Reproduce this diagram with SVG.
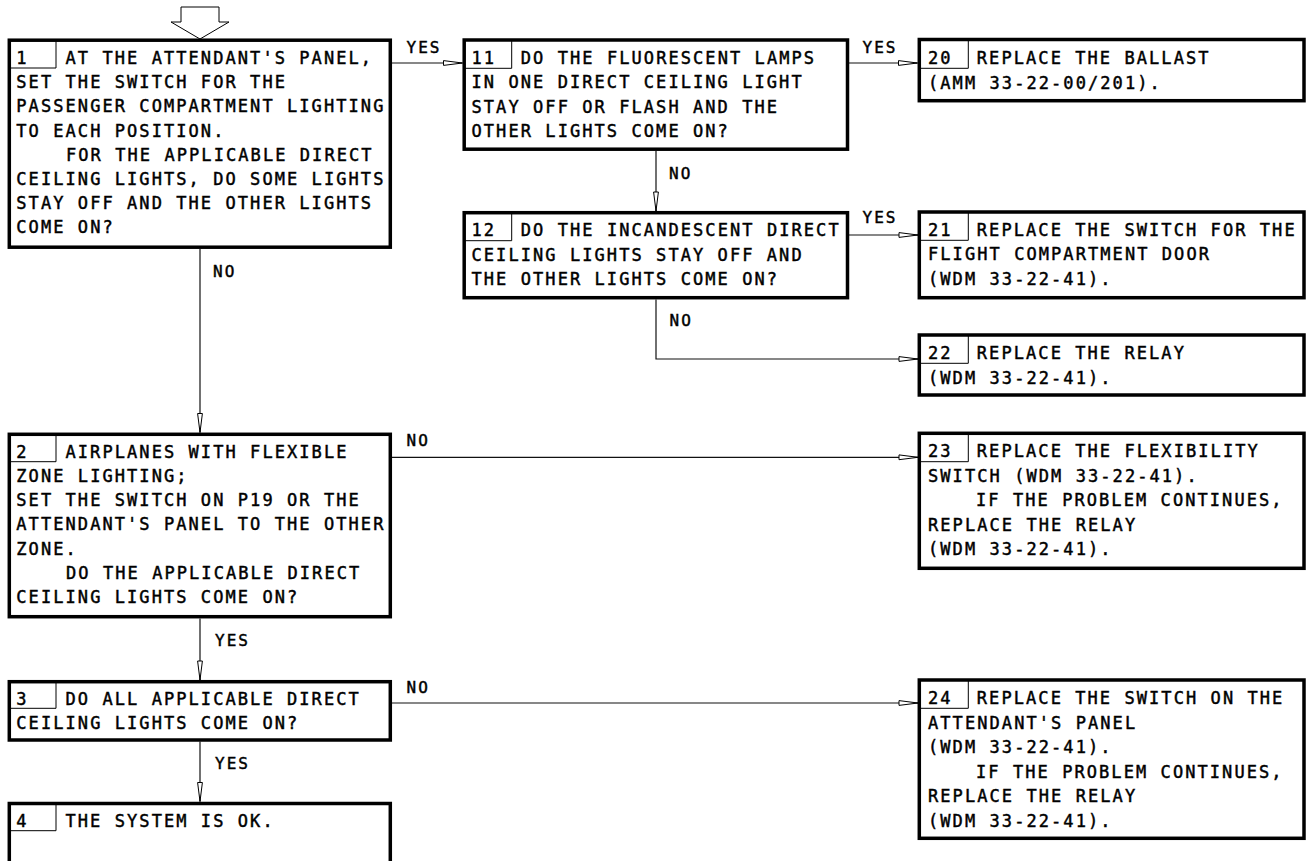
<svg xmlns="http://www.w3.org/2000/svg" width="1306" height="861" viewBox="0 0 1306 861">
<style>
.box{fill:#fff;stroke:#000;stroke-width:3.5}
.cell{fill:none;stroke:#000;stroke-width:1}
.t{font-family:"DejaVu Sans Mono","Liberation Mono",monospace;font-size:17px;letter-spacing:2.07px;fill:#000;stroke:#000;stroke-width:0.45px}
.lb{font-family:"DejaVu Sans Mono","Liberation Mono",monospace;font-size:16px;letter-spacing:2px;fill:#000;stroke:#000;stroke-width:0.45px}
.ln{fill:none;stroke:#111;stroke-width:1.2}
</style>
<defs>
<marker id="ah" markerUnits="userSpaceOnUse" markerWidth="22" markerHeight="8" viewBox="-1 -4 22 8" refX="19" refY="0" orient="auto">
<path d="M0,-2.4 L19,0 L0,2.4 Z" fill="#fff" stroke="#000" stroke-width="1"/>
</marker>
</defs>
<rect width="1306" height="861" fill="#fff"/>

<g id="start">
<polygon points="181,7 219,7 219,22 229,22 200,39 171,22 181,22" fill="#fff" stroke="#000" stroke-width="1"/>
</g>

<g id="connectors">
<line class="ln" x1="391" y1="63" x2="462.5" y2="63" marker-end="url(#ah)"/>
<text class="lb" x="406.5" y="53">YES</text>
<line class="ln" x1="849" y1="63" x2="917.5" y2="63" marker-end="url(#ah)"/>
<text class="lb" x="862.5" y="53">YES</text>
<line class="ln" x1="656" y1="151" x2="656" y2="211" marker-end="url(#ah)"/>
<text class="lb" x="669" y="179">NO</text>
<line class="ln" x1="848.5" y1="235" x2="918" y2="235" marker-end="url(#ah)"/>
<text class="lb" x="862.5" y="223">YES</text>
<path class="ln" d="M656,299.5 V359 H918" marker-end="url(#ah)"/>
<text class="lb" x="669.5" y="326">NO</text>
<line class="ln" x1="200" y1="249" x2="200" y2="432.5" marker-end="url(#ah)"/>
<text class="lb" x="213" y="277">NO</text>
<line class="ln" x1="392" y1="457.3" x2="918" y2="457.3" marker-end="url(#ah)"/>
<text class="lb" x="406.5" y="446">NO</text>
<line class="ln" x1="200" y1="618.5" x2="200" y2="680" marker-end="url(#ah)"/>
<text class="lb" x="215" y="646">YES</text>
<line class="ln" x1="392" y1="703" x2="918" y2="703" marker-end="url(#ah)"/>
<text class="lb" x="406.5" y="692.5">NO</text>
<line class="ln" x1="200" y1="741.5" x2="200" y2="801.5" marker-end="url(#ah)"/>
<text class="lb" x="215" y="768.5">YES</text>
</g>

<g id="node1">
<rect class="box" x="9.3" y="40.2" width="381" height="207"/>
<path class="cell" d="M56,40.2 V68 H9.3"/>
<text class="t" x="16.3" y="64">1</text>
<text class="t" x="65.5" y="64">AT THE ATTENDANT'S PANEL,</text>
<text class="t" x="16.3" y="88.2">SET THE SWITCH FOR THE</text>
<text class="t" x="16.3" y="112.4">PASSENGER COMPARTMENT LIGHTING</text>
<text class="t" x="16.3" y="136.6">TO EACH POSITION.</text>
<text class="t" x="66" y="160.8">FOR THE APPLICABLE DIRECT</text>
<text class="t" x="16.3" y="185">CEILING LIGHTS, DO SOME LIGHTS</text>
<text class="t" x="16.3" y="209.2">STAY OFF AND THE OTHER LIGHTS</text>
<text class="t" x="16.3" y="233.4">COME ON?</text>
</g>

<g id="node11">
<rect class="box" x="464.2" y="40" width="383.3" height="109.2"/>
<path class="cell" d="M511.7,40 V68.3 H464.2"/>
<text class="t" x="471.5" y="64">11</text>
<text class="t" x="520.8" y="64">DO THE FLUORESCENT LAMPS</text>
<text class="t" x="471.5" y="88.3">IN ONE DIRECT CEILING LIGHT</text>
<text class="t" x="471.5" y="112.6">STAY OFF OR FLASH AND THE</text>
<text class="t" x="471.5" y="136.9">OTHER LIGHTS COME ON?</text>
</g>

<g id="node12">
<rect class="box" x="464.2" y="212.7" width="383.3" height="85"/>
<path class="cell" d="M511.7,212.7 V240.7 H464.2"/>
<text class="t" x="471.5" y="236.3">12</text>
<text class="t" x="520.8" y="236.3">DO THE INCANDESCENT DIRECT</text>
<text class="t" x="471.5" y="260.6">CEILING LIGHTS STAY OFF AND</text>
<text class="t" x="471.5" y="284.9">THE OTHER LIGHTS COME ON?</text>
</g>

<g id="node20">
<rect class="box" x="919.3" y="39.5" width="384.7" height="61.2"/>
<path class="cell" d="M968.3,39.5 V68.3 H919.3"/>
<text class="t" x="928" y="64">20</text>
<text class="t" x="976.8" y="64">REPLACE THE BALLAST</text>
<text class="t" x="928" y="88.6">(AMM 33-22-00/201).</text>
</g>

<g id="node21">
<rect class="box" x="919.3" y="212" width="384.7" height="85.7"/>
<path class="cell" d="M968.3,212 V240.3 H919.3"/>
<text class="t" x="928" y="236">21</text>
<text class="t" x="976.8" y="236">REPLACE THE SWITCH FOR THE</text>
<text class="t" x="928" y="260.4">FLIGHT COMPARTMENT DOOR</text>
<text class="t" x="928" y="284.8">(WDM 33-22-41).</text>
</g>

<g id="node22">
<rect class="box" x="919.3" y="335" width="384.7" height="60"/>
<path class="cell" d="M968.3,335 V363.3 H919.3"/>
<text class="t" x="928" y="359.2">22</text>
<text class="t" x="976.8" y="359.2">REPLACE THE RELAY</text>
<text class="t" x="928" y="383.6">(WDM 33-22-41).</text>
</g>

<g id="node2">
<rect class="box" x="9.3" y="434.3" width="381" height="182.4"/>
<path class="cell" d="M56,434.3 V461.7 H9.3"/>
<text class="t" x="16.3" y="457.5">2</text>
<text class="t" x="65.5" y="457.5">AIRPLANES WITH FLEXIBLE</text>
<text class="t" x="16.3" y="481.8">ZONE LIGHTING;</text>
<text class="t" x="16.3" y="506.1">SET THE SWITCH ON P19 OR THE</text>
<text class="t" x="16.3" y="530.4">ATTENDANT'S PANEL TO THE OTHER</text>
<text class="t" x="16.3" y="554.7">ZONE.</text>
<text class="t" x="66" y="579">DO THE APPLICABLE DIRECT</text>
<text class="t" x="16.3" y="603.3">CEILING LIGHTS COME ON?</text>
</g>

<g id="node23">
<rect class="box" x="919.3" y="433.3" width="384.7" height="135"/>
<path class="cell" d="M968.3,433.3 V461.7 H919.3"/>
<text class="t" x="928" y="457.3">23</text>
<text class="t" x="976.8" y="457.3">REPLACE THE FLEXIBILITY</text>
<text class="t" x="928" y="481.7">SWITCH (WDM 33-22-41).</text>
<text class="t" x="976" y="506.1">IF THE PROBLEM CONTINUES,</text>
<text class="t" x="928" y="530.5">REPLACE THE RELAY</text>
<text class="t" x="928" y="554.9">(WDM 33-22-41).</text>
</g>

<g id="node3">
<rect class="box" x="9.3" y="681.7" width="381" height="58.3"/>
<path class="cell" d="M56,681.7 V708.3 H9.3"/>
<text class="t" x="16.3" y="704.5">3</text>
<text class="t" x="65.5" y="704.5">DO ALL APPLICABLE DIRECT</text>
<text class="t" x="16.3" y="728.7">CEILING LIGHTS COME ON?</text>
</g>

<g id="node24">
<rect class="box" x="919.3" y="680" width="384.7" height="158.3"/>
<path class="cell" d="M968.3,680 V708.3 H919.3"/>
<text class="t" x="928" y="704.3">24</text>
<text class="t" x="976.8" y="704.3">REPLACE THE SWITCH ON THE</text>
<text class="t" x="928" y="728.8">ATTENDANT'S PANEL</text>
<text class="t" x="928" y="753.3">(WDM 33-22-41).</text>
<text class="t" x="976" y="777.8">IF THE PROBLEM CONTINUES,</text>
<text class="t" x="928" y="802.3">REPLACE THE RELAY</text>
<text class="t" x="928" y="826.8">(WDM 33-22-41).</text>
</g>

<g id="node4">
<rect class="box" x="9.3" y="803.5" width="381" height="80"/>
<path class="cell" d="M56,803.5 V830.7 H9.3"/>
<text class="t" x="16.3" y="826.8">4</text>
<text class="t" x="65.5" y="826.8">THE SYSTEM IS OK.</text>
</g>
</svg>
